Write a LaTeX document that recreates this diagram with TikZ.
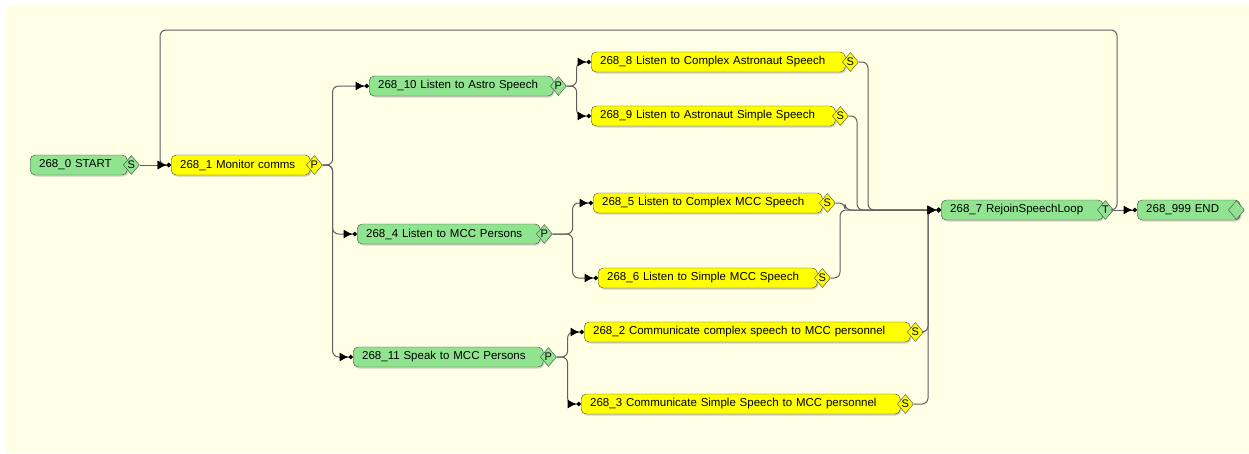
\documentclass[tikz,border=0pt]{standalone}
\usepackage{fontspec}
\setmainfont{Liberation Sans}
\usepackage{tikz}
\usetikzlibrary{arrows.meta,shapes.geometric,shadows}

\definecolor{taskgreen}{RGB}{144,228,144}
\definecolor{taskyellow}{RGB}{255,255,0}
\definecolor{paper}{RGB}{255,255,230}
\definecolor{edgegray}{RGB}{70,70,70}
\definecolor{linkgray}{RGB}{95,95,95}

\begin{document}
\begin{tikzpicture}[
    x=1pt, y=-1pt,
    task/.style={
        draw=edgegray,
        rounded corners=5pt,
        anchor=west,
        align=left,
        text width=#1,
        minimum height=20pt,
        inner xsep=9pt,
        inner ysep=0pt,
        font=\fontsize{11.5}{13}\selectfont,
        drop shadow={shadow xshift=1.2pt, shadow yshift=-1.5pt, opacity=0.35}
    },
    port/.style={
        draw=edgegray,
        diamond,
        minimum width=16pt,
        minimum height=19pt,
        inner sep=0pt,
        font=\fontsize{11}{12}\selectfont
    },
    link/.style={
        draw=linkgray,
        line width=1pt,
        rounded corners=6pt,
        -{Latex[length=9pt,width=9pt,black]Circle[length=4.5pt,black]}
    }
]

\fill[white] (0,0) rectangle (1249,453);
\fill[paper] (6,6) rectangle (1249,453);
\useasboundingbox (0,0) rectangle (1249,453);

\node[task=79pt, fill=taskgreen] (start) at (30,165) {268\_0 START};
\node[port, fill=taskgreen] (startp) at ([xshift=4pt]start.east) {S};

\node[task=121pt, fill=taskyellow] (monitor) at (171,165) {268\_1 Monitor comms};
\node[port, fill=taskyellow] (monitorp) at ([xshift=4pt]monitor.east) {P};

\node[task=166pt, fill=taskgreen] (astro) at (369,86) {268\_10 Listen to Astro Speech};
\node[port, fill=taskgreen] (astrop) at ([xshift=5pt]astro.east) {P};

\node[task=165pt, fill=taskgreen] (mccin) at (357,234) {268\_4 Listen to MCC Persons};
\node[port, fill=taskgreen] (mccinp) at ([xshift=4pt]mccin.east) {P};

\node[task=172pt, fill=taskgreen] (mccout) at (353,357) {268\_11 Speak to MCC Persons};
\node[port, fill=taskgreen] (mccoutp) at ([xshift=5pt]mccout.east) {P};

\node[task=236pt, fill=taskyellow] (astrocplx) at (591,62) {268\_8 Listen to Complex Astronaut Speech};
\node[port, fill=taskyellow] (astrocplxp) at ([xshift=5pt]astrocplx.east) {S};

\node[task=226pt, fill=taskyellow] (astrosimple) at (591,116) {268\_9 Listen to Astronaut Simple Speech};
\node[port, fill=taskyellow] (astrosimplep) at ([xshift=5pt]astrosimple.east) {S};

\node[task=211pt, fill=taskyellow] (mcccplx) at (593,203) {268\_5 Listen to Complex MCC Speech};
\node[port, fill=taskyellow] (mcccplxp) at ([xshift=5pt]mcccplx.east) {S};

\node[task=201pt, fill=taskyellow] (mccsimple) at (598,278) {268\_6 Listen to Simple MCC Speech};
\node[port, fill=taskyellow] (mccsimplep) at ([xshift=5pt]mccsimple.east) {S};

\node[task=308pt, fill=taskyellow] (speakcplx) at (584,332) {268\_2 Communicate complex speech to MCC personnel};
\node[port, fill=taskyellow] (speakcplxp) at ([xshift=5pt]speakcplx.east) {S};

\node[task=301pt, fill=taskyellow] (speaksimple) at (581,404) {268\_3 Communicate Simple Speech to MCC personnel};
\node[port, fill=taskyellow] (speaksimplep) at ([xshift=5pt]speaksimple.east) {S};

\node[task=144pt, fill=taskgreen] (rejoin) at (941,210) {268\_7 RejoinSpeechLoop};
\node[port, fill=taskgreen] (rejoinp) at ([xshift=2pt]rejoin.east) {T};

\node[task=85pt, fill=taskgreen] (finish) at (1137,210) {268\_999 END};
\node[port, fill=taskgreen] (finishp) at ([xshift=-4pt]finish.east) {};

\draw[link] (startp.east) -- (monitor.west);
\draw[link] (rejoinp.east) -| (1117,30) -| (160,165) -- (monitor.west);

\draw[link] (monitorp.east) -- ++(10,0) |- (astro.west);
\draw[link] (monitorp.east) -- ++(10,0) |- (mccin.west);
\draw[link] (monitorp.east) -- ++(10,0) |- (mccout.west);

\draw[link] (astrop.east) -- ++(10,0) |- (astrocplx.west);
\draw[link] (astrop.east) -- ++(10,0) |- (astrosimple.west);

\draw[link] (mccinp.east) -- ++(20,0) |- (mcccplx.west);
\draw[link] (mccinp.east) -- ++(20,0) |- (mccsimple.west);

\draw[link] (mccoutp.east) -- ++(11,0) |- (speakcplx.west);
\draw[link] (mccoutp.east) -- ++(11,0) |- (speaksimple.west);

\draw[link] (astrocplxp.east) -| (868,210) -- (rejoin.west);
\draw[link] (astrosimplep.east) -| (857,210) -- (rejoin.west);
\draw[link] (mcccplxp.east) -| (845,210) -- (rejoin.west);
\draw[link] (mccsimplep.east) -| (840,210) -- (rejoin.west);
\draw[link] (speakcplxp.east) -| (928,210) -- (rejoin.west);
\draw[link] (speaksimplep.east) -| (928,210) -- (rejoin.west);

\draw[link] (rejoinp.east) -- (finish.west);

\end{tikzpicture}
\end{document}
